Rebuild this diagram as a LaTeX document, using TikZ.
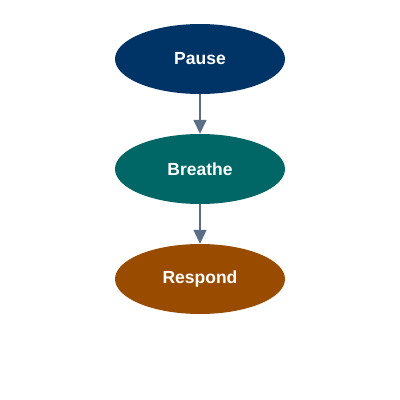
\documentclass[tikz,border=0pt]{standalone}
\usepackage{fontspec}
\setmainfont{Liberation Sans}
\usetikzlibrary{shapes.geometric,arrows.meta}
\definecolor{navy}{HTML}{003366}
\definecolor{teal2}{HTML}{006666}
\definecolor{brown2}{HTML}{994C00}
\definecolor{arrowc}{HTML}{5A6E85}
\tikzset{
  stage/.style={ellipse, minimum width=170pt, minimum height=70pt, inner sep=0pt, text=white, font=\fontsize{17.5}{20}\selectfont\bfseries},
  conn/.style={draw=arrowc, line width=1.5pt, -{Triangle[length=14pt,width=13pt]}}
}
\begin{document}
\begin{tikzpicture}[x=1pt,y=-1pt]
\useasboundingbox (0,0) rectangle (400,400);
\node[stage, fill=navy] (pause) at (200,59) {Pause};
\node[stage, fill=teal2] (breathe) at (200,169) {Breathe};
\node[stage, fill=brown2] (respond) at (200,279) {Respond};
\draw[conn] (pause) -- (breathe);
\draw[conn] (breathe) -- (respond);
\end{tikzpicture}
\end{document}
